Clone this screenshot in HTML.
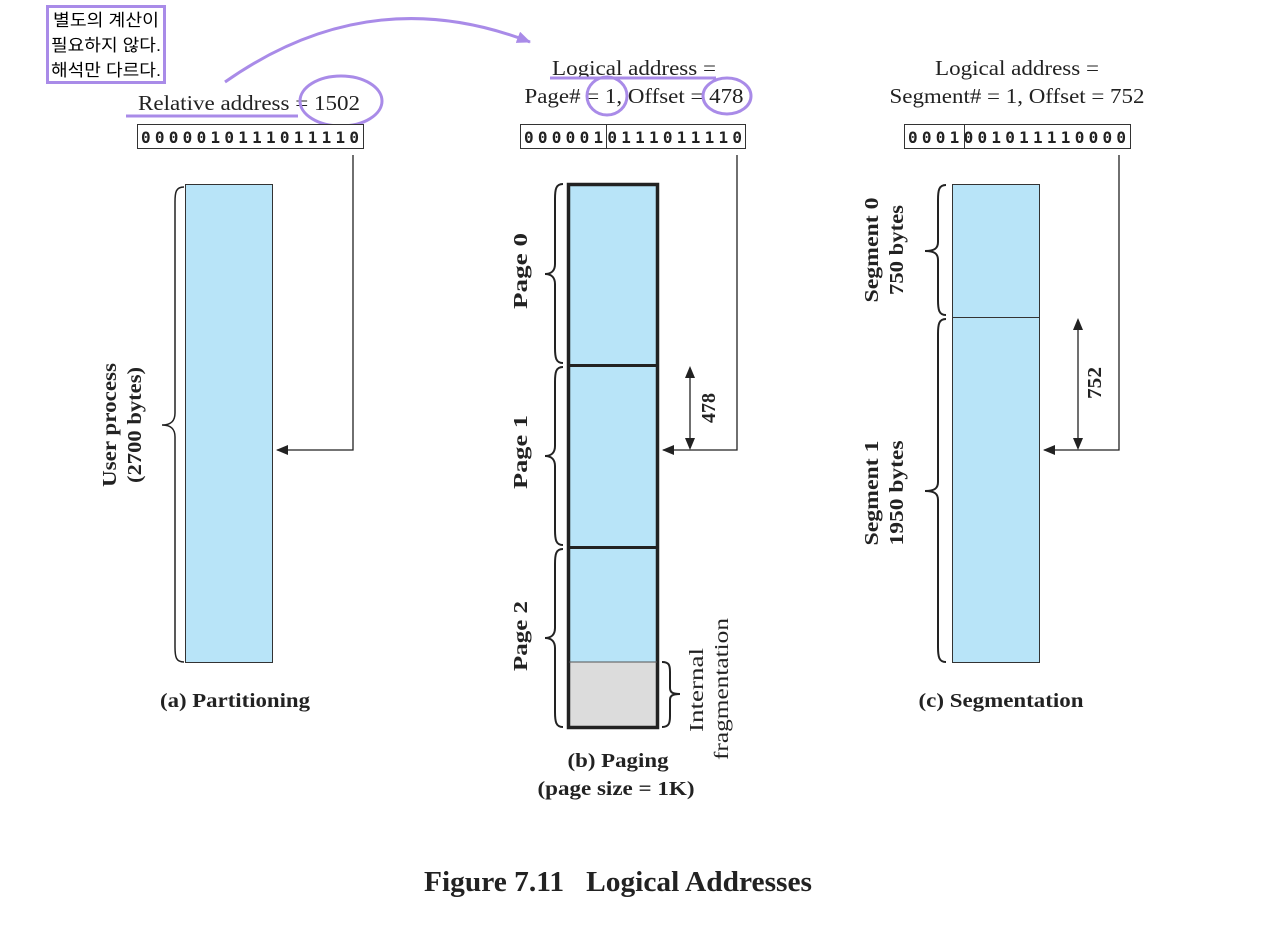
<!DOCTYPE html>
<html><head><meta charset="utf-8"><style>
html,body{margin:0;padding:0;background:#fff;}
svg{display:block;}
.s{font-family:"Liberation Serif",serif;fill:#222;}
.b{font-family:"Liberation Serif",serif;font-weight:bold;fill:#222;}
.m{font-family:"DejaVu Sans Mono","Liberation Mono",monospace;font-weight:bold;fill:#222;}
.k{font-family:"Liberation Sans","Noto Sans CJK KR",sans-serif;fill:#000;}
</style></head><body>
<svg width="1280" height="928" viewBox="0 0 1280 928" xmlns="http://www.w3.org/2000/svg">
<defs>
<marker id="ah" markerWidth="12" markerHeight="10" refX="11" refY="5" orient="auto" markerUnits="userSpaceOnUse"><path d="M0,0 L12,5 L0,10 Z" fill="#222"/></marker>
<marker id="ap" markerWidth="14" markerHeight="12" refX="13" refY="6" orient="auto" markerUnits="userSpaceOnUse"><path d="M0,0 L14,6 L0,12 Z" fill="#a98be8"/></marker>
</defs>

<!-- annotation -->
<rect x="47.5" y="6.5" width="117" height="76" fill="#fff" stroke="#a98be8" stroke-width="3"/>
<text class="k" font-size="17" x="106" y="26" text-anchor="middle" textLength="106" lengthAdjust="spacingAndGlyphs">별도의 계산이</text>
<text class="k" font-size="17" x="106" y="51" text-anchor="middle" textLength="110" lengthAdjust="spacingAndGlyphs">필요하지 않다.</text>
<text class="k" font-size="17" x="106" y="76" text-anchor="middle" textLength="110" lengthAdjust="spacingAndGlyphs">해석만 다르다.</text>
<path d="M225,82 Q370,-20 530,42" fill="none" stroke="#a98be8" stroke-width="3" marker-end="url(#ap)"/>

<!-- (a) -->
<text class="s" font-size="21" x="138" y="110" textLength="222" lengthAdjust="spacingAndGlyphs">Relative address = 1502</text>
<line x1="126" y1="116" x2="298" y2="116" stroke="#a98be8" stroke-width="3"/>
<ellipse cx="341" cy="101" rx="41" ry="25" fill="none" stroke="#a98be8" stroke-width="3"/>
<rect x="137.5" y="124.5" width="226" height="24" fill="#fff" stroke="#333" stroke-width="1"/>
<text class="m" font-size="16" x="250" y="143" text-anchor="middle" textLength="218">0000010111011110</text>
<rect x="185.5" y="184.5" width="87" height="478" fill="#b8e4f8" stroke="#333" stroke-width="1"/>
<path d="M184,187 C176,187 175,192 175,202 L175,413 C175,420 172,425 162,425 C172,425 175,430 175,437 L175,647 C175,657 176,662 184,662" fill="none" stroke="#222" stroke-width="1.5"/>
<text class="b" font-size="20" transform="translate(116,425) rotate(-90)" text-anchor="middle" textLength="124" lengthAdjust="spacingAndGlyphs">User process</text>
<text class="b" font-size="20" transform="translate(141,425) rotate(-90)" text-anchor="middle" textLength="116" lengthAdjust="spacingAndGlyphs">(2700 bytes)</text>
<polyline points="353,155 353,450 277,450" fill="none" stroke="#222" stroke-width="1.3" marker-end="url(#ah)"/>
<text class="b" font-size="20" x="235" y="707" text-anchor="middle" textLength="150" lengthAdjust="spacingAndGlyphs">(a) Partitioning</text>

<!-- (b) -->
<text class="s" font-size="21" x="634" y="75" text-anchor="middle" textLength="164" lengthAdjust="spacingAndGlyphs">Logical address =</text>
<text class="s" font-size="21" x="634" y="103" text-anchor="middle" textLength="219" lengthAdjust="spacingAndGlyphs">Page# = 1, Offset = 478</text>
<line x1="550" y1="78" x2="716" y2="78" stroke="#a98be8" stroke-width="3"/>
<ellipse cx="607" cy="96" rx="20" ry="19" fill="none" stroke="#a98be8" stroke-width="3"/>
<ellipse cx="727" cy="96" rx="24" ry="18" fill="none" stroke="#a98be8" stroke-width="3"/>
<rect x="520.5" y="124.5" width="225" height="24" fill="#fff" stroke="#333" stroke-width="1"/>
<line x1="606.5" y1="124" x2="606.5" y2="149" stroke="#333"/>
<text class="m" font-size="16" x="633" y="143" text-anchor="middle" textLength="218">0000010111011110</text>
<rect x="568" y="184" width="90" height="544" fill="#b8e4f8"/>
<rect x="569" y="662" width="88" height="66" fill="#dcdcdc"/>
<rect x="568.5" y="184.5" width="89" height="543" fill="none" stroke="#222" stroke-width="3.5"/>
<line x1="568" y1="365.5" x2="658" y2="365.5" stroke="#222" stroke-width="3"/>
<line x1="568" y1="547.5" x2="658" y2="547.5" stroke="#222" stroke-width="3"/>
<line x1="569" y1="662" x2="657" y2="662" stroke="#555" stroke-width="1"/>
<g fill="none" stroke="#222" stroke-width="2">
<path d="M563,184 C556,184 555,189 555,199 L555,264 C555,270 552,274 545,274 C552,274 555,278 555,284 L555,348 C555,358 556,363 563,363"/>
<path d="M563,367 C556,367 555,372 555,382 L555,446 C555,452 552,456 545,456 C552,456 555,460 555,466 L555,530 C555,540 556,545 563,545"/>
<path d="M563,549 C556,549 555,554 555,564 L555,628 C555,634 552,638 545,638 C552,638 555,642 555,648 L555,712 C555,722 556,727 563,727"/>
<path d="M662,662 C669,662 670,665 670,672 L670,688 C670,692 672,694 680,694 C672,694 670,696 670,700 L670,716 C670,723 669,727 662,727"/>
</g>
<text class="b" font-size="20" transform="translate(527,271) rotate(-90)" text-anchor="middle" textLength="76" lengthAdjust="spacingAndGlyphs">Page 0</text>
<text class="b" font-size="20" transform="translate(527,452) rotate(-90)" text-anchor="middle" textLength="74" lengthAdjust="spacingAndGlyphs">Page 1</text>
<text class="b" font-size="20" transform="translate(527,636) rotate(-90)" text-anchor="middle" textLength="70" lengthAdjust="spacingAndGlyphs">Page 2</text>
<text class="s" font-size="20" transform="translate(703,690) rotate(-90)" text-anchor="middle" textLength="84" lengthAdjust="spacingAndGlyphs">Internal</text>
<text class="s" font-size="20" transform="translate(728,689) rotate(-90)" text-anchor="middle" textLength="142" lengthAdjust="spacingAndGlyphs">fragmentation</text>
<polyline points="737,155 737,450 663,450" fill="none" stroke="#222" stroke-width="1.3" marker-end="url(#ah)"/>
<line x1="690" y1="378" x2="690" y2="438" stroke="#222" stroke-width="1.3"/>
<path d="M690,366 L685,378 L695,378 Z M690,450 L685,438 L695,438 Z" fill="#222"/>
<text class="b" font-size="20" transform="translate(715,408) rotate(-90)" text-anchor="middle" textLength="30" lengthAdjust="spacingAndGlyphs">478</text>
<text class="b" font-size="20" x="618" y="767" text-anchor="middle" textLength="101" lengthAdjust="spacingAndGlyphs">(b) Paging</text>
<text class="b" font-size="20" x="616" y="795" text-anchor="middle" textLength="157" lengthAdjust="spacingAndGlyphs">(page size = 1K)</text>

<!-- (c) -->
<text class="s" font-size="21" x="1017" y="75" text-anchor="middle" textLength="164" lengthAdjust="spacingAndGlyphs">Logical address =</text>
<text class="s" font-size="21" x="1017" y="103" text-anchor="middle" textLength="255" lengthAdjust="spacingAndGlyphs">Segment# = 1, Offset = 752</text>
<rect x="904.5" y="124.5" width="226" height="24" fill="#fff" stroke="#333" stroke-width="1"/>
<line x1="964.5" y1="124" x2="964.5" y2="149" stroke="#333"/>
<text class="m" font-size="16" x="1017" y="143" text-anchor="middle" textLength="218">0001001011110000</text>
<rect x="952.5" y="184.5" width="87" height="478" fill="#b8e4f8" stroke="#333" stroke-width="1"/>
<line x1="952" y1="317.5" x2="1040" y2="317.5" stroke="#333" stroke-width="1"/>
<g fill="none" stroke="#222" stroke-width="2">
<path d="M946,185 C939,185 938,190 938,200 L938,242 C938,248 935,251 925,251 C935,251 938,254 938,260 L938,300 C938,310 939,315 946,315"/>
<path d="M946,319 C939,319 938,324 938,334 L938,482 C938,488 935,491 925,491 C935,491 938,494 938,500 L938,647 C938,657 939,662 946,662"/>
</g>
<text class="b" font-size="20" transform="translate(878,250) rotate(-90)" text-anchor="middle" textLength="105" lengthAdjust="spacingAndGlyphs">Segment 0</text>
<text class="b" font-size="20" transform="translate(903,250) rotate(-90)" text-anchor="middle" textLength="90" lengthAdjust="spacingAndGlyphs">750 bytes</text>
<text class="b" font-size="20" transform="translate(878,493) rotate(-90)" text-anchor="middle" textLength="105" lengthAdjust="spacingAndGlyphs">Segment 1</text>
<text class="b" font-size="20" transform="translate(903,493) rotate(-90)" text-anchor="middle" textLength="105" lengthAdjust="spacingAndGlyphs">1950 bytes</text>
<polyline points="1119,155 1119,450 1044,450" fill="none" stroke="#222" stroke-width="1.3" marker-end="url(#ah)"/>
<line x1="1078" y1="330" x2="1078" y2="438" stroke="#222" stroke-width="1.3"/>
<path d="M1078,318 L1073,330 L1083,330 Z M1078,450 L1073,438 L1083,438 Z" fill="#222"/>
<text class="b" font-size="20" transform="translate(1101,383) rotate(-90)" text-anchor="middle" textLength="32" lengthAdjust="spacingAndGlyphs">752</text>
<text class="b" font-size="20" x="1001" y="707" text-anchor="middle" textLength="165" lengthAdjust="spacingAndGlyphs">(c) Segmentation</text>

<text class="b" font-size="28" x="618" y="891" text-anchor="middle" xml:space="preserve" textLength="388" lengthAdjust="spacingAndGlyphs">Figure 7.11   Logical Addresses</text>
</svg>
</body></html>
